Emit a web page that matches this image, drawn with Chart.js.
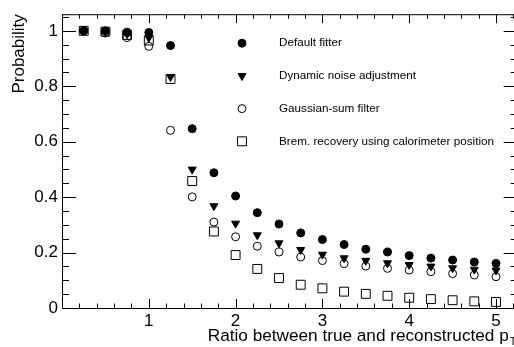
<!DOCTYPE html>
<html>
<head>
<meta charset="utf-8">
<script src="https://cdn.jsdelivr.net/npm/chart.js@4/dist/chart.umd.min.js"></script>
<style>
  html, body { margin: 0; padding: 0; background: #fff; overflow: hidden; }
  canvas { display: block; }
</style>
</head>
<body>
<canvas id="miGrafico" width="525" height="347"></canvas>
<script>
const ratio = [0.25, 0.5, 0.75, 1.0, 1.25, 1.5, 1.75, 2.0, 2.25, 2.5, 2.75, 3.0, 3.25, 3.5, 3.75, 4.0, 4.25, 4.5, 4.75, 5.0]
const defaultFitter = [1.0, 1.0, 0.995, 0.994, 0.947, 0.647, 0.488, 0.404, 0.344, 0.303, 0.271, 0.247, 0.229, 0.212, 0.202, 0.189, 0.180, 0.173, 0.166, 0.161]
const dynamicNoise = [1.0, 0.995, 0.988, 0.975, 0.834, 0.500, 0.368, 0.305, 0.263, 0.234, 0.210, 0.193, 0.180, 0.171, 0.162, 0.156, 0.150, 0.144, 0.139, 0.136]
const gaussianSum = [1.0, 0.992, 0.976, 0.944, 0.641, 0.401, 0.310, 0.257, 0.223, 0.202, 0.184, 0.171, 0.160, 0.151, 0.143, 0.137, 0.131, 0.124, 0.119, 0.113]
const bremRecovery = [1.0, 0.997, 0.985, 0.965, 0.826, 0.458, 0.276, 0.191, 0.141, 0.108, 0.084, 0.071, 0.059, 0.051, 0.044, 0.037, 0.032, 0.028, 0.024, 0.022]
const etiquetas = ['Default fitter', 'Dynamic noise adjustment', 'Gaussian-sum filter', 'Brem. recovery using calorimeter position']
const ticksX = [1, 2, 3, 4, 5]
const ticksY = [0, 0.2, 0.4, 0.6, 0.8, 1]

const fuente = 'Liberation Sans, Arial, sans-serif'
const puntos = (serie) => ratio.map((x, i) => ({ x: x, y: serie[i] }))

const estilos = [
    { pointStyle: 'circle', pointRadius: 4, backgroundColor: '#000', borderColor: '#000', rotation: 0 },
    { pointStyle: 'triangle', pointRadius: 4.6, backgroundColor: '#000', borderColor: '#000', rotation: 180 },
    { pointStyle: 'circle', pointRadius: 4, backgroundColor: 'rgba(0,0,0,0)', borderColor: '#000', rotation: 0 },
    { pointStyle: 'rect', pointRadius: 6.3, backgroundColor: 'rgba(0,0,0,0)', borderColor: '#000', rotation: 0 }
]

const series = [defaultFitter, dynamicNoise, gaussianSum, bremRecovery]

// marco, marcas hacia dentro, leyenda y títulos
const decoracion = {
    id: 'decoracion',
    afterDraw(chart) {
        const ctx = chart.ctx
        const a = chart.chartArea
        const sx = chart.scales.x
        const sy = chart.scales.y
        ctx.save()
        ctx.strokeStyle = '#000'
        ctx.lineWidth = 1
        ctx.strokeRect(a.left + 0.5, a.top + 0.5, a.right - a.left, a.bottom - a.top)

        ctx.beginPath()
        for (let k = 0; k <= 26; k++) {
            const v = k * 0.2
            const px = Math.round(sx.getPixelForValue(v)) + 0.5
            const largo = (k % 5 === 0) ? 9 : 4.5
            ctx.moveTo(px, a.bottom)
            ctx.lineTo(px, a.bottom - largo)
            ctx.moveTo(px, a.top)
            ctx.lineTo(px, a.top + largo)
        }
        for (let k = 0; k <= 21; k++) {
            const v = k * 0.05
            const py = Math.round(sy.getPixelForValue(v)) + 0.5
            const largo = (k % 4 === 0) ? 14 : 7
            ctx.moveTo(a.left, py)
            ctx.lineTo(a.left + largo, py)
            ctx.moveTo(a.right, py)
            ctx.lineTo(a.right - largo, py)
        }
        ctx.stroke()

        // leyenda
        ctx.font = '11.7px ' + fuente
        ctx.textBaseline = 'middle'
        ctx.textAlign = 'left'
        ctx.fillStyle = '#000'
        chart.data.datasets.forEach((ds, i) => {
            const y = a.top + 29 + i * 32.7
            const x = a.left + 180
            ctx.fillStyle = ds.backgroundColor
            ctx.strokeStyle = ds.borderColor
            ctx.lineWidth = 1
            Chart.helpers.drawPoint(ctx, { pointStyle: ds.pointStyle, radius: ds.pointRadius, rotation: ds.rotation, borderWidth: 1 }, x, y)
            ctx.fillStyle = '#000'
            ctx.fillText(ds.label, a.left + 217, y)
        })

        // título eje x con subíndice
        ctx.font = '17.2px ' + fuente
        ctx.textBaseline = 'alphabetic'
        ctx.textAlign = 'right'
        const textoX = 'Ratio between true and reconstructed p'
        const finX = a.right - 9
        ctx.fillText(textoX, finX, 341)
        ctx.font = '11px ' + fuente
        ctx.textAlign = 'left'
        ctx.fillText('T', finX + 1, 345)

        // título eje y
        ctx.font = '17px ' + fuente
        ctx.translate(24, a.top)
        ctx.rotate(-Math.PI / 2)
        ctx.textAlign = 'right'
        ctx.fillText('Probability', 0, 0)
        ctx.restore()
    }
}

new Chart(document.getElementById('miGrafico').getContext('2d'), {
    type: 'scatter',
    data: {
        datasets: series.map((serie, i) => ({
            label: etiquetas[i],
            data: puntos(serie),
            pointStyle: estilos[i].pointStyle,
            pointRadius: estilos[i].pointRadius,
            rotation: estilos[i].rotation,
            backgroundColor: estilos[i].backgroundColor,
            borderColor: estilos[i].borderColor,
            borderWidth: 1,
            showLine: false
        }))
    },
    options: {
        responsive: false,
        animation: false,
        layout: { padding: { left: 0, top: 13, right: 6, bottom: 0 } },
        plugins: {
            legend: { display: false },
            tooltip: { enabled: false }
        },
        scales: {
            x: {
                type: 'linear',
                min: 0,
                max: 5.25,
                grid: { display: false, drawTicks: false },
                border: { display: false },
                afterBuildTicks: (scale) => { scale.ticks = ticksX.map(v => ({ value: v })) },
                afterFit: (scale) => { scale.height = 39 },
                ticks: {
                    color: '#000',
                    font: { family: fuente, size: 17 },
                    padding: 3,
                    maxRotation: 0,
                    callback: (v) => String(v)
                }
            },
            y: {
                min: 0,
                max: 1.06,
                grid: { display: false, drawTicks: false },
                border: { display: false },
                afterBuildTicks: (scale) => { scale.ticks = ticksY.map(v => ({ value: v })) },
                afterFit: (scale) => { scale.width = 62 },
                ticks: {
                    color: '#000',
                    font: { family: fuente, size: 17 },
                    padding: 4,
                    callback: (v) => String(Math.round(v * 10) / 10)
                }
            }
        }
    },
    plugins: [decoracion]
});
</script>
</body>
</html>
